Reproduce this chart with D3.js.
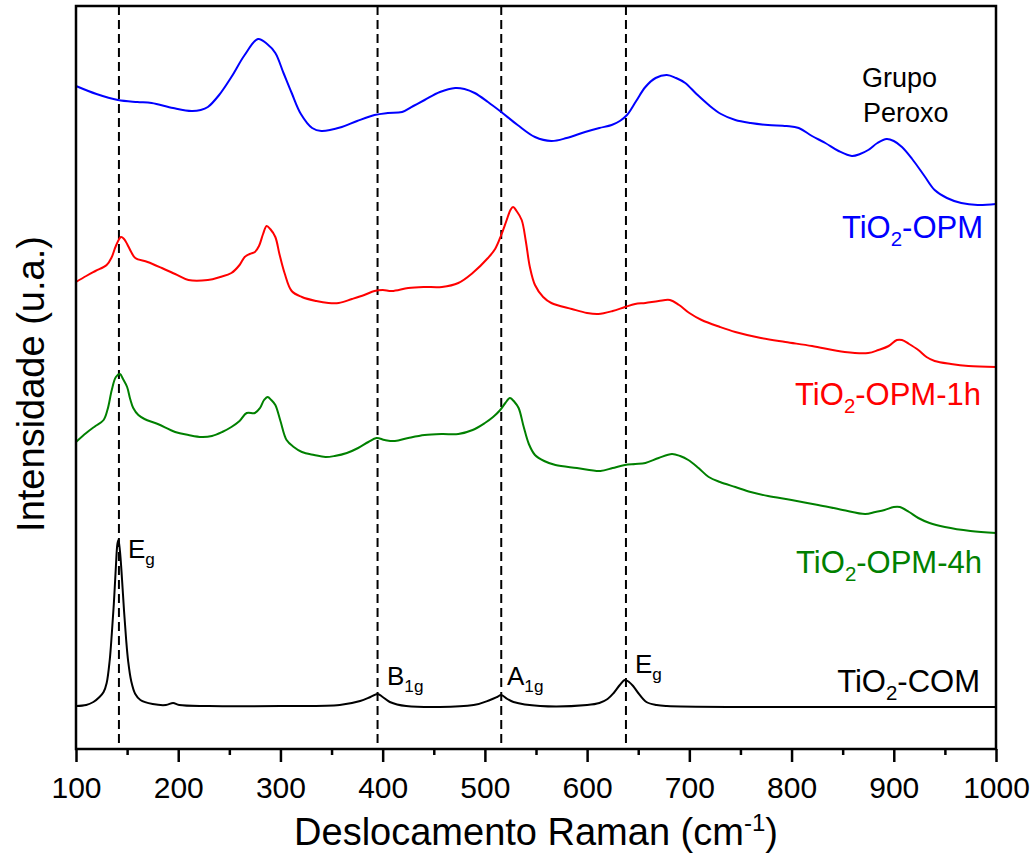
<!DOCTYPE html>
<html>
<head>
<meta charset="utf-8">
<script src="https://cdn.jsdelivr.net/npm/d3@7"></script>
<style>
body { margin: 0; background: #fff; }
svg { font-family: "Liberation Sans", Arial, sans-serif; }
</style>
</head>
<body>
<div id="chart"></div>
<script>
// tick values
var xTicks = [100, 200, 300, 400, 500, 600, 700, 800, 900, 1000];
var xMinor = [150, 250, 350, 450, 550, 650, 750, 850, 950];
var peakLines = [142, 395, 516, 638];

// spectra, [wavenumber, intensity (u.a.)]
var opm = [[100,663],[120,655],[141,649],[160,647],[174,646],[195,641],[213,638],[222,639],[229,642],[240,654],[252,672],[265,694],[278,710],[287,705],[295,696],[303,676],[311,656],[320,635],[331,621],[340,618],[360,622],[375,628],[392,634],[405,636],[419,637],[430,643],[441,649],[456,657],[471,661],[480,660],[490,656],[503,647],[516,637],[532,624],[549,612],[565,608],[580,611],[598,617],[612,621],[624,624],[632,628],[639,634],[648,648],[657,662],[667,671],[678,674],[687,671],[696,666],[707,655],[719,644],[731,635],[745,629],[760,626],[777,624],[795,623],[807,621],[820,613],[833,606],[846,598],[859,593],[867,595],[875,599],[884,606],[893,610],[900,608],[908,602],[918,590],[930,573],[940,559],[952,551],[966,546],[982,544],[1000,545]];

var opm1h = [[100,467],[110,473],[119,478],[130,484],[135,492],[139,503],[144,512],[147,510],[150,505],[154,497],[158,491],[170,487],[184,481],[197,475],[210,469],[229,469],[241,472],[252,476],[260,484],[265,492],[270,495],[275,497],[279,503],[283,515],[286.5,523],[290,520],[295,512],[299,495],[304,476],[311,458],[321,452],[335,448],[347,446],[357,446],[370,450],[382,454],[392,458],[400,459],[409,458],[425,461],[440,462],[458,462],[474,466],[488,476],[503,491],[510,500],[516,514],[521,528],[525,539],[527.5,542],[531,538],[536,529],[540,508],[544,482],[549,464],[557,452],[565,446],[585,440],[600,436],[611,435],[625,438],[637,442],[647,445],[657,446],[670,448],[681,449],[690,444],[700,436],[712,429],[730,422],[745,417],[770,411],[794,407],[820,403],[852,397],[875,396],[885,399],[895,403],[903,409],[908,409],[915,405],[924,399],[932,392],[940,388],[956,385],[973,383],[1000,382]];

var opm4h = [[100,307],[110,316],[119,323],[127,329],[131,340],[135,359],[139,372],[143,375],[146,370],[150,362],[153,350],[156,341],[161,334],[167,330],[180,325],[197,317],[210,314],[223,312],[233,313],[243,317],[252,322],[260,328],[267,336],[275,336],[280,341],[284,349],[287.5,352],[291,349],[295,344],[300,328],[306,309],[313,302],[321,297],[333,294],[344,292],[353,293],[365,296],[376,301],[386,307],[394,311],[402,309],[412,308],[425,311],[441,314],[458,315],[474,315],[488,319],[500,326],[508,332],[515,339],[520,346],[524.5,351],[529,347],[533,341],[538,322],[543,305],[549,294],[558,288],[569,284],[590,281],[613,278],[625,281],[637,284],[647,285],[657,286],[670,291],[683,295],[691,293],[699,289],[709,281],[719,272],[730,267],[745,262],[760,257],[777,253],[800,249],[826,244],[850,239],[872,235],[882,237],[891,239],[900,242],[906,242],[915,237],[924,231],[935,226],[950,222],[975,218],[1000,216]];

var com = [[100,43],[110,44],[117,47],[123,52],[127,57],[130,66],[133,89],[135,115],[137,145],[139,182],[140.5,205],[141.5,209],[143,198],[145,170],[147,138],[149,110],[151,88],[154,68],[158,55],[163,49],[175,45],[188,44],[195,46],[201,44],[230,43],[300,43],[358,44],[378,48],[388,52],[395,55],[400,52],[407,47],[423,43],[489,44],[505,49],[512,52],[516,54],[522,50],[528,47],[554,43],[600,44],[612,46],[620,50],[626,56],[632,64],[637,69],[641,67],[645,63],[650,56],[658,47],[668,44],[678,43],[750,42],[850,42],[1000,42]];

var svg = d3.select("#chart").append("svg")
    .attr("width", 1036)
    .attr("height", 861),
    margin = {top: 6, right: 40, bottom: 112, left: 76},
    width = +svg.attr("width") - margin.left - margin.right,
    height = +svg.attr("height") - margin.top - margin.bottom;

var x = d3.scaleLinear().domain([100, 1000]).range([0, width]);
var y = d3.scaleLinear().domain([0, 743]).range([height, 0]);

var g = svg.append("g")
    .attr("transform", "translate(" + margin.left + "," + margin.top + ")");

// dashed reference lines
g.selectAll(".ref")
    .data(peakLines)
  .enter().append("line")
    .attr("x1", function(d) { return x(d); })
    .attr("x2", function(d) { return x(d); })
    .attr("y1", 0)
    .attr("y2", height)
    .attr("stroke", "#000")
    .attr("stroke-width", 2)
    .attr("stroke-dasharray", "9,5");

var line = d3.line()
    .x(function(d) { return x(d[0]); })
    .y(function(d) { return y(d[1]); })
    .curve(d3.curveCatmullRom.alpha(0.5));

var series = [
  {data: opm, color: "#0000ff"},
  {data: opm1h, color: "#ff0000"},
  {data: opm4h, color: "#008000"},
  {data: com, color: "#000000"}
];

g.selectAll(".spec")
    .data(series)
  .enter().append("path")
    .attr("fill", "none")
    .attr("stroke", function(d) { return d.color; })
    .attr("stroke-width", 2)
    .attr("d", function(d) { return line(d.data); });

// axes
var xAxis = g.append("g")
    .attr("transform", "translate(0," + height + ")")
    .call(d3.axisBottom(x).tickValues(xTicks).tickFormat(d3.format("d"))
      .tickSize(13).tickPadding(15).tickSizeOuter(0));
xAxis.selectAll("text").style("font-size", "30px").attr("fill", "#000");
xAxis.selectAll("line").attr("stroke-width", 2.5);
xAxis.select(".domain").remove();

var xMinorAxis = g.append("g")
    .attr("transform", "translate(0," + height + ")")
    .call(d3.axisBottom(x).tickValues(xMinor).tickSize(6).tickFormat("").tickSizeOuter(0));
xMinorAxis.selectAll("line").attr("stroke-width", 2.5);
xMinorAxis.select(".domain").remove();

g.append("rect")
    .attr("width", width)
    .attr("height", height)
    .attr("fill", "none")
    .attr("stroke", "#000")
    .attr("stroke-width", 2.5);

// series labels
function subLabel(xp, yp, color, a, b, c, size, anchor) {
  var t = g.append("text")
      .attr("x", xp).attr("y", yp)
      .attr("fill", color)
      .attr("text-anchor", anchor)
      .style("font-size", size + "px");
  t.append("tspan").text(a);
  t.append("tspan").attr("dy", size * 0.27).style("font-size", (size * 0.66) + "px").text(b);
  if (c) t.append("tspan").attr("dy", -size * 0.27).text(c);
}

subLabel(907, 232, "#0000ff", "TiO", "2", "-OPM", 31, "end");
subLabel(905, 399, "#ff0000", "TiO", "2", "-OPM-1h", 31, "end");
subLabel(906, 567, "#008000", "TiO", "2", "-OPM-4h", 31, "end");
subLabel(904, 686, "#000000", "TiO", "2", "-COM", 31, "end");

g.append("text").attr("x", 786).attr("y", 81).style("font-size", "27px").text("Grupo");
g.append("text").attr("x", 787).attr("y", 116).style("font-size", "27px").text("Peroxo");

// peak assignments
subLabel(52, 552, "#000", "E", "g", null, 26, "start");
subLabel(311, 679, "#000", "B", "1g", null, 26, "start");
subLabel(431, 679, "#000", "A", "1g", null, 26, "start");
subLabel(559, 667, "#000", "E", "g", null, 26, "start");

// axis titles
var xt = svg.append("text")
    .attr("x", margin.left + width / 2)
    .attr("y", 845)
    .attr("text-anchor", "middle")
    .style("font-size", "38px");
xt.append("tspan").text("Deslocamento Raman (cm");
xt.append("tspan").attr("dy", -14).style("font-size", "24px").text("-1");
xt.append("tspan").attr("dy", 14).text(")");

svg.append("text")
    .attr("transform", "translate(44," + (margin.top + 378) + ") rotate(-90)")
    .attr("text-anchor", "middle")
    .style("font-size", "38px")
    .text("Intensidade (u.a.)");
</script>
</body>
</html>
